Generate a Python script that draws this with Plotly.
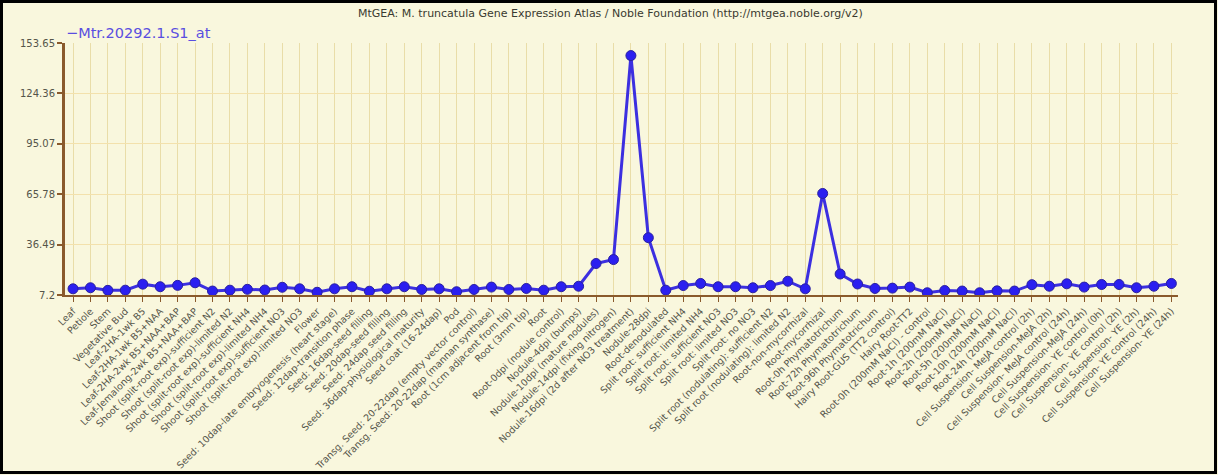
import plotly.graph_objects as go

probe_set = "Mtr.20292.1.S1_at"

samples = [
    "Leaf", "Petiole", "Stem", "Vegetative Bud",
    "Leaf-2HA-1wk B5", "Leaf-2HA-1wk B5+NAA", "Leaf-2HA-2wk B5+NAA+BAP",
    "Leaf-Jemalong-2wk B5+NAA+BAP",
    "Shoot (split-root exp)-sufficient N2", "Shoot (split-root exp)-limited N2",
    "Shoot (split-root exp)-sufficient NH4", "Shoot (split-root exp)-limited NH4",
    "Shoot (split-root exp)-sufficient NO3", "Shoot (split-root exp)-limited NO3",
    "Flower",
    "Seed: 10dap-late embryogenesis (heart stage)", "Seed: 12dap-transition phase",
    "Seed: 16dap-seed filling", "Seed: 20dap-seed filling", "Seed: 24dap seed filling",
    "Seed: 36dap-physiological maturity", "Seed coat (16-24dap)", "Pod",
    "Transg. Seed: 20-22dap (empty vector control)",
    "Transg. Seed: 20-22dap (mannan synthase)",
    "Root (1cm adjacent from tip)", "Root (3mm tip)", "Root",
    "Root-0dpi (nodule control)", "Nodule-4dpi (bumps)",
    "Nodule-10dpi (mature nodules)", "Nodule-14dpi (fixing nitrogen)",
    "Nodule-16dpi (2d after NO3 treatment)", "Nodule-28dpi", "Root-denodulated",
    "Split root: sufficient NH4", "Split root: limited NH4",
    "Split root: sufficient NO3", "Split root: limited NO3", "Split root: no NO3",
    "Split root (nodulating): sufficient N2", "Split root (nodulating): limited N2",
    "Root-non-mycorrhizal", "Root-mycorrhizal",
    "Root-0h Phymatotrichum", "Root-72h Phymatotrichum", "Root-96h Phymatotrichum",
    "Hairy Root-GUS (TT2 control)", "Hairy Root-TT2",
    "Root-0h (200mM NaCl) - control", "Root-1h (200mM NaCl)", "Root-2h (200mM NaCl)",
    "Root-5h (200mM NaCl)", "Root-10h (200mM NaCl)", "Root-24h (200mM NaCl)",
    "Cell Suspension- MeJA control (2h)", "Cell Suspension-MeJA (2h)",
    "Cell Suspension- MeJA control (24h)", "Cell Suspension-MeJA (24h)",
    "Cell Suspension- YE control (0h)", "Cell Suspension- YE control (2h)",
    "Cell Suspension- YE (2h)", "Cell Suspension- YE control (24h)",
    "Cell Suspension- YE (24h)",
]

expression = [
    10.8, 11.4, 9.9, 10.0, 13.5, 12.0, 12.8, 14.3,
    9.5, 10.0, 10.5, 10.1, 11.7, 10.8,
    8.8, 10.8, 12.0, 9.4, 10.8, 12.0, 10.4, 10.8, 9.1,
    10.4, 11.8, 10.4, 11.0, 10.0,
    12.0, 12.3, 25.5, 27.8, 146.33, 40.5, 10.0,
    12.7, 13.9, 12.0, 12.0, 11.4, 12.7, 15.2,
    10.8, 66.2, 19.4, 13.6, 11.0, 11.2, 11.8,
    8.5, 9.8, 9.5, 8.5, 9.6, 9.5,
    13.2, 12.3, 13.7, 11.8, 13.3, 13.3, 11.4, 12.3, 13.9,
]

y_ticks = [7.2, 36.49, 65.78, 95.07, 124.36, 153.65]
y_tick_text = ["7.2", "36.49", "65.78", "95.07", "124.36", "153.65"]

title_text = ("MtGEA: M. truncatula Gene Expression Atlas / Noble Foundation "
              "(http://mtgea.noble.org/v2)")

bg = "#f9f7dd"
axis_brown = "#8a5a2c"
tick_grey = "#55554a"
line_blue = "#3c2fe0"

x_idx = list(range(len(samples)))

fig = go.Figure()
fig.add_trace(go.Scatter(
    x=x_idx, y=expression, mode="lines+markers", name=probe_set,
    line=dict(color=line_blue, width=3),
    marker=dict(color="#2b1ff0", size=10, line=dict(color="#2a20a0", width=1)),
    showlegend=False,
))

W, H = 1218, 475
ml, mr, mt, mb = 65, 40, 43, 180
pw, ph = W - ml - mr, H - mt - mb

def px_x(p):
    return (p - ml) / pw

def px_y(p):
    return (H - mb - p) / ph

fig.update_layout(
    width=W, height=H,
    margin=dict(l=ml, r=mr, t=mt, b=mb, pad=0, autoexpand=False),
    paper_bgcolor=bg, plot_bgcolor=bg,
    font=dict(family="DejaVu Sans", color=tick_grey, size=10),
    xaxis=dict(
        range=[-0.46, len(samples) - 1 + 0.38],
        tickmode="array", tickvals=x_idx, ticktext=samples,
        tickangle=-45, tickfont=dict(size=9.5, color=tick_grey),
        ticks="outside", ticklen=5, tickcolor=axis_brown, tickwidth=1,
        showgrid=True, gridcolor="#e9dda8", gridwidth=1,
        showline=True, linecolor=axis_brown, linewidth=2,
        zeroline=False, automargin=False,
    ),
    yaxis=dict(
        range=[7.2, 153.65],
        tickmode="array", tickvals=y_ticks, ticktext=y_tick_text,
        tickfont=dict(size=10, color=tick_grey),
        ticks="outside", ticklen=5, tickcolor=axis_brown, tickwidth=2,
        showgrid=True, gridcolor="#f3e1ac", gridwidth=1,
        showline=True, linecolor=axis_brown, linewidth=3,
        zeroline=False, automargin=False,
    ),
    annotations=[
        dict(text=title_text, xref="paper", yref="paper",
             x=px_x(610), y=px_y(14), xanchor="center", yanchor="middle",
             showarrow=False, font=dict(size=11, color="#3a3a30")),
        dict(text="\u2212" + probe_set, xref="paper", yref="paper",
             x=px_x(64), y=px_y(33), xanchor="left", yanchor="middle",
             showarrow=False, font=dict(size=14.5, color="#5a4ee0")),
    ],
    shapes=[
        dict(type="rect", xref="paper", yref="paper",
             x0=px_x(1.5), x1=px_x(W - 2.5), y0=px_y(H - 2.5), y1=px_y(1.5),
             line=dict(color="black", width=3), fillcolor="rgba(0,0,0,0)",
             layer="above"),
    ],
)

fig.write_html("out.html")
